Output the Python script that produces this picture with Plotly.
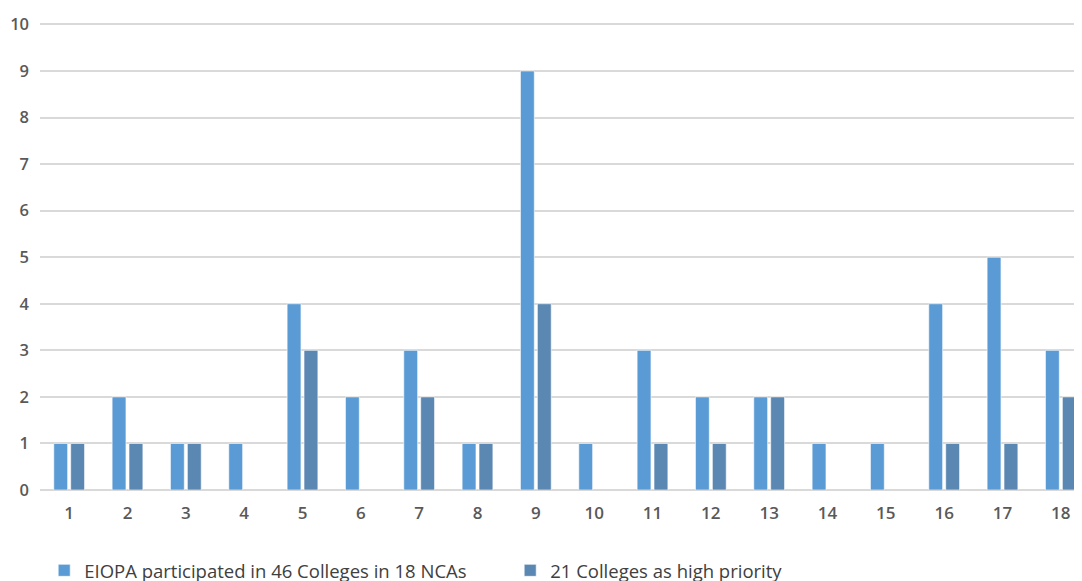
import plotly.graph_objects as go

categories = [str(i) for i in range(1, 19)]
participated = [1, 2, 1, 1, 4, 2, 3, 1, 9, 1, 3, 2, 2, 1, 1, 4, 5, 3]
high_priority = [1, 1, 1, 0, 3, 0, 2, 1, 4, 0, 1, 1, 2, 0, 0, 1, 1, 2]
series_names = ["EIOPA participated in 46 Colleges in 18 NCAs", "21 Colleges as high priority"]
y_ticks = list(range(0, 11))

fig = go.Figure()
fig.add_trace(go.Bar(x=categories, y=[v if v else None for v in participated], name=series_names[0],
                     marker=dict(color="#5B9BD5", line=dict(color="rgba(255,255,255,0.6)", width=1))))
fig.add_trace(go.Bar(x=categories, y=[v if v else None for v in high_priority], name=series_names[1],
                     marker=dict(color="#5B87B3", line=dict(color="rgba(255,255,255,0.6)", width=1))))

# page body has an 8px margin, so figure coords = screen coords - 8
fig.update_layout(
    width=1082, height=581,
    margin=dict(l=32, r=0, t=15, b=99, autoexpand=False),
    paper_bgcolor="white", plot_bgcolor="white",
    barmode="group", bargap=0.42, bargroupgap=0.18,
    font=dict(family="Open Sans", color="#595959"),
    xaxis=dict(type="category", range=[-0.5, 17.5], automargin=False,
               showgrid=False, showline=False, ticks="",
               tickfont=dict(size=17, color="#595959", family="Open Sans", weight=600),
               ticklabelstandoff=11),
    yaxis=dict(range=[0, 10.03], tickvals=y_ticks, automargin=False,
               showgrid=True, gridcolor="#D9D9D9", gridwidth=1.5,
               zeroline=True, zerolinecolor="#D9D9D9", zerolinewidth=1.5,
               tickfont=dict(size=16.5, color="#595959", family="Open Sans", weight=600),
               ticklabelstandoff=10),
    legend=dict(orientation="h", x=0.004, xanchor="left",
                y=-0.173, yanchor="middle",
                entrywidth=421, entrywidthmode="pixels",
                font=dict(size=18.5, color="#404040", family="Open Sans")),
)

fig.write_html("out.html")
